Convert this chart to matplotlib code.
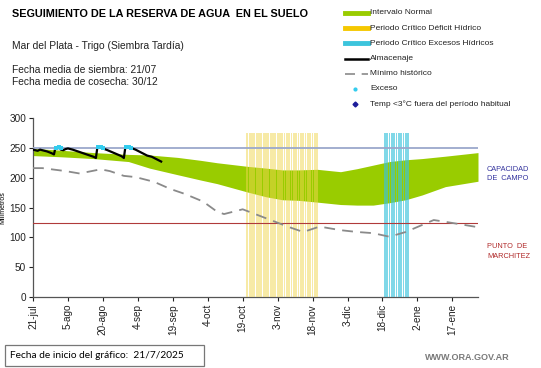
import numpy as np
import matplotlib
matplotlib.use("Agg")
import matplotlib.pyplot as plt
from matplotlib.lines import Line2D
from matplotlib.patches import Rectangle

plt.rcParams["font.family"] = ["Liberation Sans", "DejaVu Sans"]

# ─── Datos ────────────────────────────────────────────────────────────────────
# dias desde 21-jul (fecha de inicio del grafico)
tick_dias   = [0, 15, 30, 45, 60, 75, 90, 105, 120, 135, 150, 165, 180]
tick_labels = ["21-jul", "5-ago", "20-ago", "4-sep", "19-sep", "4-oct", "19-oct",
               "3-nov", "18-nov", "3-dic", "18-dic", "2-ene", "17-ene"]
DIAS_TOTAL = 191

# intervalo normal (banda verde)
banda_dias = [0, 12, 26, 41, 50, 62, 72, 79, 92, 100, 107, 114, 122, 132, 139,
              146, 153, 160, 167, 177, 191]
banda_sup  = [249, 246, 242, 239, 238, 234, 229, 225, 219, 216, 213, 213, 214,
              210, 215, 221, 227, 230, 232, 236, 242]
banda_inf  = [237, 235, 232, 227, 216, 205, 196, 190, 176, 168, 163, 162, 159,
              155, 154, 154, 158, 163, 171, 185, 194]

# minimo historico
min_dias = [0, 4, 14, 20, 29, 33, 39, 44, 49, 52, 59, 65, 73, 79, 82, 90, 100,
            110, 116, 123, 132, 139, 146, 153, 160, 172, 177, 191]
min_vals = [216, 216, 211, 207, 214, 211, 203, 201, 196, 193, 181, 173, 160, 143,
            139, 147, 132, 117, 109, 118, 112, 109, 107, 101, 109, 129, 126, 117]

# almacenaje
alm_dias = [0, 1, 2, 3, 4, 6, 8, 9, 9.6, 11, 12, 13, 14, 15, 17, 20, 23, 26, 27,
            27.6, 29, 30, 32, 35, 38, 39, 39.6, 41, 42, 44, 47, 49, 50, 51, 52,
            53, 54, 55]
alm_vals = [247, 246, 245, 247, 246, 244, 241, 239, 250, 250, 247, 246, 248, 249,
            247, 243, 239, 235, 233, 250, 250, 249, 246, 241, 236, 233, 250, 251,
            250, 247, 241, 237, 236, 235, 233, 231, 229, 227]

# excesos
exc_dias = [10, 11, 12, 28, 29, 30, 40, 41, 42]
exc_vals = [250, 251, 250, 251, 251, 250, 251, 251, 250]

# periodos criticos
deficit_dias = list(range(92, 123))
excesos_dias = list(range(151, 162))
ALTURA_PERIODO = 275

CAPACIDAD_CAMPO = 250
PUNTO_MARCHITEZ = 124

W, H = 541, 368

# ─── Grafica ─────────────────────────────────────────────────────────────────
fig = plt.figure(figsize=(W / 100, H / 100), dpi=100)
ax = fig.add_axes([33 / W, 1 - 297 / H, (478 - 33) / W, (297 - 118) / H])

ax.fill_between(banda_dias, banda_inf, banda_sup, color="#99cc00", lw=0, zorder=2)

ax.bar(deficit_dias, [ALTURA_PERIODO] * len(deficit_dias), width=0.75,
       color="#f0d64e", alpha=0.5, lw=0, zorder=3)
ax.bar(excesos_dias, [ALTURA_PERIODO] * len(excesos_dias), width=0.7,
       color="#3cc4dc", alpha=0.65, lw=0, zorder=3)

ax.axhline(CAPACIDAD_CAMPO, color="#9ba8cc", lw=1.3, zorder=4)
ax.axhline(PUNTO_MARCHITEZ, color="#b03a3a", lw=0.8, zorder=4)

ax.plot(min_dias, min_vals, color="#8a8a8a", lw=1.3, dashes=(6, 4), zorder=5)
ax.plot(alm_dias, alm_vals, color="black", lw=1.6, zorder=6)
ax.scatter(exc_dias, exc_vals, color="#33ccee", s=6, marker="s", lw=0, zorder=7)

ax.set_xlim(0, DIAS_TOTAL)
ax.set_ylim(0, 300)
ax.set_yticks(range(0, 301, 50))
ax.set_xticks(tick_dias)
ax.set_xticklabels(tick_labels, rotation=90)
ax.tick_params(axis="both", labelsize=7.2, length=3, width=0.8, pad=2,
               colors="#222222")
for s in ["top", "right"]:
    ax.spines[s].set_visible(False)
for s in ["left", "bottom"]:
    ax.spines[s].set_color("#555555")
    ax.spines[s].set_linewidth(0.9)
ax.set_ylabel("Milímetros", fontsize=5, labelpad=2)

# ─── Textos ──────────────────────────────────────────────────────────────────
def ftxt(x, y, s, **kw):
    fig.text(x / W, 1 - y / H, s, va="center", **kw)

ftxt(12, 14, "SEGUIMIENTO DE LA RESERVA DE AGUA  EN EL SUELO", fontsize=7.8,
     fontweight="bold")
ftxt(12, 46, "Mar del Plata - Trigo (Siembra Tardía)", fontsize=7.4,
     color="#222222")
ftxt(12, 70, "Fecha media de siembra: 21/07", fontsize=7.4, color="#222222")
ftxt(12, 82, "Fecha media de cosecha: 30/12", fontsize=7.4, color="#222222")

ftxt(487, 170, "CAPACIDAD", fontsize=5.3, color="#34349e")
ftxt(487, 179, "DE  CAMPO", fontsize=5.3, color="#34349e")
ftxt(487, 247, "PUNTO  DE", fontsize=5.3, color="#b02a2a")
ftxt(487, 256, "MARCHITEZ", fontsize=5.3, color="#b02a2a")

# ─── Leyenda ──────────────────────────────────────────────────────────────────
filas = [
    ("Intervalo Normal", dict(color="#99cc00", lw=3.5)),
    ("Periodo Crítico Déficit Hídrico", dict(color="#f5c800", lw=3.5)),
    ("Periodo Crítico Excesos Hídricos", dict(color="#3cc4dc", lw=3.5)),
    ("Almacenaje", dict(color="black", lw=1.8)),
    ("Mínimo histórico", dict(color="#8a8a8a", lw=1.2, dashes=(6, 4))),
    ("Exceso", dict(color="#33ccee", marker="o", ms=2, lw=0)),
    ("Temp <3°C fuera del período habitual", dict(color="#1c1c9a", marker="D",
                                                  ms=2.5, lw=0)),
]
for i, (txt, estilo) in enumerate(filas):
    y = 13 + i * 15.2
    yf = 1 - y / H
    if estilo.get("lw", 1) == 0:
        xs = [355 / W]
        ys = [yf]
    else:
        xs = [345 / W, 368 / W]
        ys = [yf, yf]
    fig.add_artist(Line2D(xs, ys, transform=fig.transFigure, **estilo))
    ftxt(370, y, txt, fontsize=6, color="#222222")

# ─── Pie ─────────────────────────────────────────────────────────────────────
fig.add_artist(Rectangle((5 / W, 1 - 366 / H), 199 / W, 21 / H,
                         transform=fig.transFigure, fill=False,
                         edgecolor="#777777", lw=0.9))
ftxt(10, 355.5, "Fecha de inicio del gráfico:  21/7/2025", fontsize=7.3,
     family=["Lato", "DejaVu Sans"])
ftxt(425, 358, "WWW.ORA.GOV.AR", fontsize=6.5, color="#7a7a7a",
     fontweight="bold")

fig.savefig("out.png", dpi=100)
